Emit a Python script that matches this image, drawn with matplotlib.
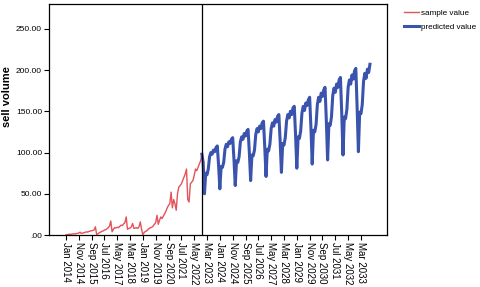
import matplotlib
matplotlib.use("Agg")
import matplotlib.pyplot as plt
import numpy as np

plt.rcParams["font.family"] = ["Liberation Sans", "DejaVu Sans"]

# monthly sample values, Jan 2014 onwards
sample_values = [
    0.3, 0.5, 0.8, 1.0, 0.9, 1.2, 1.5, 1.4, 1.8, 2.0, 2.4, 3.5,
    2.0, 2.4, 2.8, 3.3, 3.9, 3.6, 4.4, 4.9, 5.2, 5.6, 6.2, 10.0,
    0.5, 1.5, 2.8, 3.5, 4.5, 5.0, 6.0, 6.5, 7.5, 9.0, 11.0, 17.0,
    4.0, 7.0, 9.0, 8.5, 9.5, 9.0, 10.5, 12.0, 11.5, 13.5, 15.0, 22.0,
    7.0, 8.0, 8.5, 10.0, 14.0, 8.0, 8.5, 9.0, 8.0, 10.0, 16.0, 7.0,
    0.5, 3.0, 4.5, 5.0, 7.0, 8.0, 9.0, 9.5, 11.0, 13.0, 15.0, 24.0,
    13.0, 18.0, 22.0, 20.0, 23.0, 26.0, 29.0, 33.0, 36.0, 38.0, 52.0, 33.0,
    43.0, 38.0, 30.0, 50.0, 58.0, 60.0, 62.0, 66.0, 70.0, 74.0, 80.0, 43.0,
    40.0, 62.0, 64.0, 66.0, 72.0, 80.0, 78.0, 82.0, 86.0, 90.0, 97.0,
]

# predicted values, continuing from the last sample month
predicted_values = [
    98, 88,
    50, 75, 73, 80, 95, 100, 98, 103, 101, 106, 108, 85,
    56, 83, 82, 88, 104, 110, 107, 113, 111, 116, 118, 92,
    60, 90, 88, 95, 113, 119, 116, 123, 120, 126, 128, 100,
    66, 97, 96, 103, 122, 129, 125, 132, 129, 136, 138, 107,
    71, 104, 102, 110, 129, 136, 132, 140, 137, 144, 146, 114,
    76, 111, 109, 118, 138, 146, 142, 150, 146, 154, 156, 122,
    81, 119, 117, 126, 148, 156, 151, 160, 157, 164, 167, 130,
    86, 127, 125, 134, 158, 167, 162, 172, 168, 176, 179, 139,
    91, 135, 133, 143, 169, 178, 173, 183, 179, 188, 191, 148,
    97, 143, 141, 152, 179, 188, 183, 194, 189, 199, 202, 155,
    101, 149, 147, 158, 186, 196, 190, 201, 197, 207,
]

tick_labels = [
    "Jan 2014", "Nov 2014", "Sep 2015", "Jul 2016", "May 2017", "Mar 2018",
    "Jan 2019", "Nov 2019", "Sep 2020", "Jul 2021", "May 2022", "Mar 2023",
    "Jan 2024", "Nov 2024", "Sep 2025", "Jul 2026", "May 2027", "Mar 2028",
    "Jan 2029", "Nov 2029", "Sep 2030", "Jul 2031", "May 2032", "Mar 2033",
]
y_ticks = [0, 50, 100, 150, 200, 250]
y_tick_labels = [".00", "50.00", "100.00", "150.00", "200.00", "250.00"]

RED = "#e4525a"
BLUE = "#3a54ad"

x_sample = np.arange(len(sample_values))
split = len(sample_values) - 1
x_pred = np.arange(split, split + len(predicted_values))

fig = plt.figure(figsize=(4.8, 2.87), dpi=100)
ax = fig.add_axes([0.102, 0.181, 0.704, 0.805])

ax.plot(x_sample, sample_values, color=RED, lw=1.0, label="sample value")
ax.plot(x_pred, predicted_values, color=BLUE, lw=2.2, label="predicted value")
ax.axvline(split, color="black", lw=0.9)

ax.set_xlim(-13.2, 250.2)
ax.set_ylim(0, 280)
ax.set_yticks(y_ticks, y_tick_labels, fontsize=6)
ax.set_xticks(np.arange(len(tick_labels)) * 10, tick_labels, rotation=-90, fontsize=7)
ax.tick_params(axis="both", direction="out", length=3.5, width=0.8, pad=1.5)
for s in ax.spines.values():
    s.set_linewidth(0.9)
ax.set_ylabel("sell volume", fontsize=8, fontweight="bold")
ax.yaxis.set_label_coords(-0.11, 0.6)

ax.legend(loc="upper left", bbox_to_anchor=(1.027, 1.012), frameon=False,
          fontsize=5.9, handlelength=1.8, handletextpad=0.3, labelspacing=0.75,
          borderaxespad=0.6)

fig.savefig("out.png", dpi=100)
